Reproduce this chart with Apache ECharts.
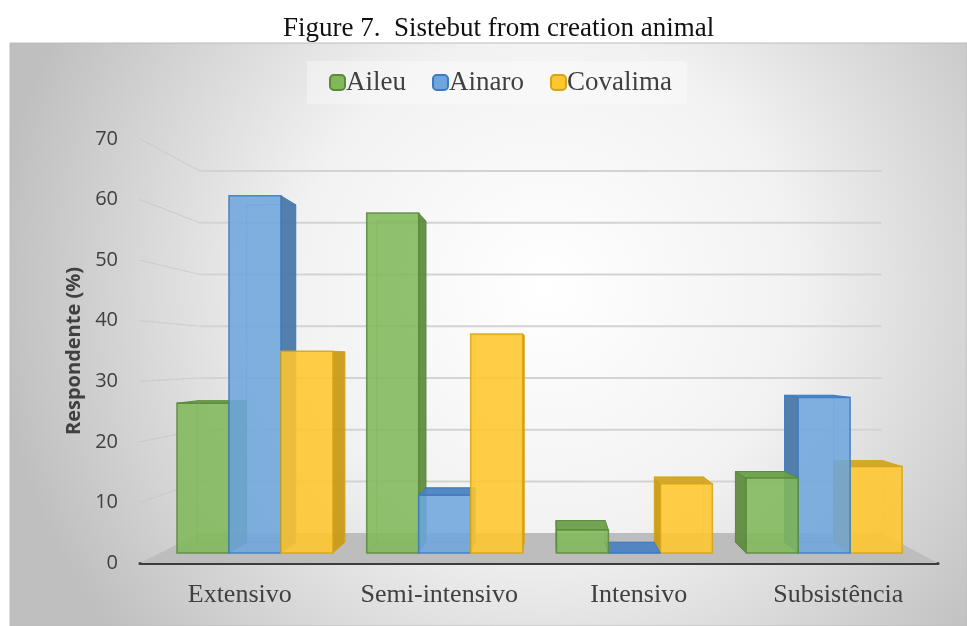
<!DOCTYPE html>
<html>
<head>
<meta charset="utf-8">
<script src="https://cdn.jsdelivr.net/npm/echarts@6/dist/echarts.min.js"></script>
<style>
html, body { margin: 0; padding: 0; background: #fff; }
#chart { width: 967px; height: 626px; }
</style>
</head>
<body>
<div id="chart"></div>
<script>
var categories = ['Extensivo', 'Semi-intensivo', 'Intensivo', 'Subsistência'];
var aileu = [26, 59, 4, 13];
var ainaro = [62, 10, 0, 27];
var covalima = [35, 38, 12, 15];
var yTicks = [0, 10, 20, 30, 40, 50, 60, 70];

// fake 3d: everything is projected toward a vanishing point
var VP_X = 0.514;     // fraction of grid width
var VP_VAL = 33.8;    // eye level, in axis units
var R_FRONT = 0.951;  // bar front plane
var R_BACK = 0.899;   // bar back plane
var R_WALL = 0.854;   // back wall
var BAR_FRAC = 0.274;

var palettes = [
    { front: '#80b85a', side: '#5e8c40', top: '#6c9f4a', edge: '#5a8a3a' },
    { front: '#6ea6dd', side: '#4a78a8', top: '#4d82c0', edge: '#3b7bc2' },
    { front: '#ffc72c', side: '#c99b17', top: '#d3a422', edge: '#d6a514' }
];

function project(vx, vy) {
    return function (x, y, r) {
        return [vx + (x - vx) * r, vy + (y - vy) * r];
    };
}

function barRenderer(k) {
    var pal = palettes[k];
    return function (params, api) {
        var cs = params.coordSys;
        var cat = api.value(0), val = api.value(1);
        var band = api.size([1, 0])[0];
        var bw = band * BAR_FRAC;
        var c = api.coord([cat, 0]);
        var t = api.coord([cat, val]);
        var xl = c[0] + (k - 1.5) * bw, xr = xl + bw;
        var yb = c[1], yt = t[1];
        var vx = cs.x + cs.width * VP_X, vy = api.coord([0, VP_VAL])[1];
        var P = project(vx, vy);
        var mid = (xl + xr) / 2;
        var z = (1000 - Math.round(Math.abs(mid - vx))) * 5;
        var kids = [];
        // back edges, seen through the faces
        kids.push({
            type: 'polyline', z2: z,
            shape: { points: [P(xl, yb, R_FRONT), P(xl, yb, R_BACK), P(xl, yt, R_BACK), P(xr, yt, R_BACK), P(xr, yb, R_BACK), P(xl, yb, R_BACK)] },
            style: { fill: null, stroke: pal.edge, lineWidth: 1, opacity: 0.45 }
        });
        var xs = mid < vx ? xr : xl;
        kids.push({
            type: 'polygon', z2: z + 1,
            shape: { points: [P(xs, yb, R_FRONT), P(xs, yb, R_BACK), P(xs, yt, R_BACK), P(xs, yt, R_FRONT)] },
            style: { fill: pal.side, stroke: pal.edge, lineWidth: 1, opacity: 0.95 }
        });
        if (yt > vy) {
            kids.push({
                type: 'polygon', z2: z + 2,
                shape: { points: [P(xl, yt, R_FRONT), P(xr, yt, R_FRONT), P(xr, yt, R_BACK), P(xl, yt, R_BACK)] },
                style: { fill: pal.top, stroke: pal.edge, lineWidth: 1, opacity: 0.95 }
            });
        }
        kids.push({
            type: 'polygon', z2: z + 3,
            shape: { points: [P(xl, yb, R_FRONT), P(xr, yb, R_FRONT), P(xr, yt, R_FRONT), P(xl, yt, R_FRONT)] },
            style: { fill: pal.front, stroke: pal.edge, lineWidth: 1.5, opacity: 0.88 }
        });
        return { type: 'group', children: kids };
    };
}

function wallRenderer(params, api) {
    var cs = params.coordSys;
    var v = api.value(1);
    var y = api.coord([0, v])[1];
    var xl = cs.x, xr = cs.x + cs.width;
    var vx = cs.x + cs.width * VP_X, vy = api.coord([0, VP_VAL])[1];
    var P = project(vx, vy);
    if (v === 0) {
        return {
            type: 'polygon',
            shape: { points: [P(xl, y, R_WALL), P(xr, y, R_WALL), P(xr, y, 1), P(xl, y, 1)] },
            style: { fill: '#bdbdbd', stroke: null }
        };
    }
    return {
        type: 'group',
        children: [
            { type: 'line', shape: { x1: xl, y1: y, x2: P(xl, y, R_WALL)[0], y2: P(xl, y, R_WALL)[1] },
              style: { stroke: '#c4c4c4', lineWidth: 1, lineDash: [2, 1] } },
            { type: 'line', shape: { x1: P(xl, y, R_WALL)[0], y1: P(xl, y, R_WALL)[1], x2: P(xr, y, R_WALL)[0], y2: P(xr, y, R_WALL)[1] },
              style: { stroke: '#d3d3d3', lineWidth: 2 } }
        ]
    };
}

function toItems(arr) {
    return arr.map(function (v, i) { return [i, v]; });
}

var chart = echarts.init(document.getElementById('chart'));

var option = {
    animation: false,
    graphic: [{
        type: 'rect', z: -10, silent: true,
        shape: { x: 10, y: 43, width: 957, height: 583 },
        style: {
            fill: new echarts.graphic.RadialGradient(0.56, 0.42, 0.95, [
                { offset: 0, color: '#ffffff' },
                { offset: 0.45, color: '#f2f2f2' },
                { offset: 1, color: '#bfbfbf' }
            ]),
            stroke: '#bcbcbc', lineWidth: 1
        }
    }],
    title: {
        text: 'Figure 7.  Sistebut from creation animal',
        left: 278, top: 10,
        textStyle: { fontFamily: 'Liberation Serif', fontSize: 27, fontWeight: 'normal', color: '#111' }
    },
    legend: {
        data: ['Aileu', 'Ainaro', 'Covalima'],
        top: 61, left: 307,
        itemWidth: 15, itemHeight: 15, itemGap: 26,
        padding: [8, 15, 8, 22],
        backgroundColor: 'rgba(255,255,255,0.35)',
        textStyle: { fontFamily: 'Liberation Serif', fontSize: 27, color: '#404040', padding: [0, 0, 0, -4] }
    },
    grid: { left: 140, right: 29, top: 139, bottom: 63 },
    xAxis: {
        type: 'category',
        data: categories,
        axisLine: { show: true, lineStyle: { color: '#3c3c3c', width: 3 } },
        axisTick: { show: false },
        axisLabel: { interval: 0, margin: 19, fontFamily: 'Liberation Serif', fontSize: 26, color: '#404040' },
        splitLine: { show: false }
    },
    yAxis: {
        type: 'value',
        min: 0, max: 70, interval: 10,
        name: 'Respondente (%)',
        nameLocation: 'middle',
        nameGap: 56,
        nameTextStyle: { fontFamily: 'Open Sans', fontSize: 20, fontWeight: 'bold', color: '#404040' },
        axisLine: { show: false },
        axisTick: { show: false },
        axisLabel: { margin: 22, fontFamily: 'Open Sans', fontSize: 20, color: '#404040' },
        splitLine: { show: false }
    },
    series: [
        {
            type: 'custom', name: 'Aileu', z: 3,
            renderItem: barRenderer(0),
            itemStyle: { color: palettes[0].front, borderColor: palettes[0].edge, borderWidth: 1.5 },
            encode: { x: 0, y: 1 },
            data: toItems(aileu)
        },
        {
            type: 'custom', name: 'Ainaro', z: 3,
            renderItem: barRenderer(1),
            itemStyle: { color: palettes[1].front, borderColor: palettes[1].edge, borderWidth: 1.5 },
            encode: { x: 0, y: 1 },
            data: toItems(ainaro)
        },
        {
            type: 'custom', name: 'Covalima', z: 3,
            renderItem: barRenderer(2),
            itemStyle: { color: palettes[2].front, borderColor: palettes[2].edge, borderWidth: 1.5 },
            encode: { x: 0, y: 1 },
            data: toItems(covalima)
        },
        {
            type: 'custom', name: 'walls', z: 1, silent: true,
            renderItem: wallRenderer,
            encode: { x: 0, y: 1 },
            data: yTicks.map(function (v) { return [0, v]; })
        }
    ]
};

chart.setOption(option);
</script>
</body>
</html>
